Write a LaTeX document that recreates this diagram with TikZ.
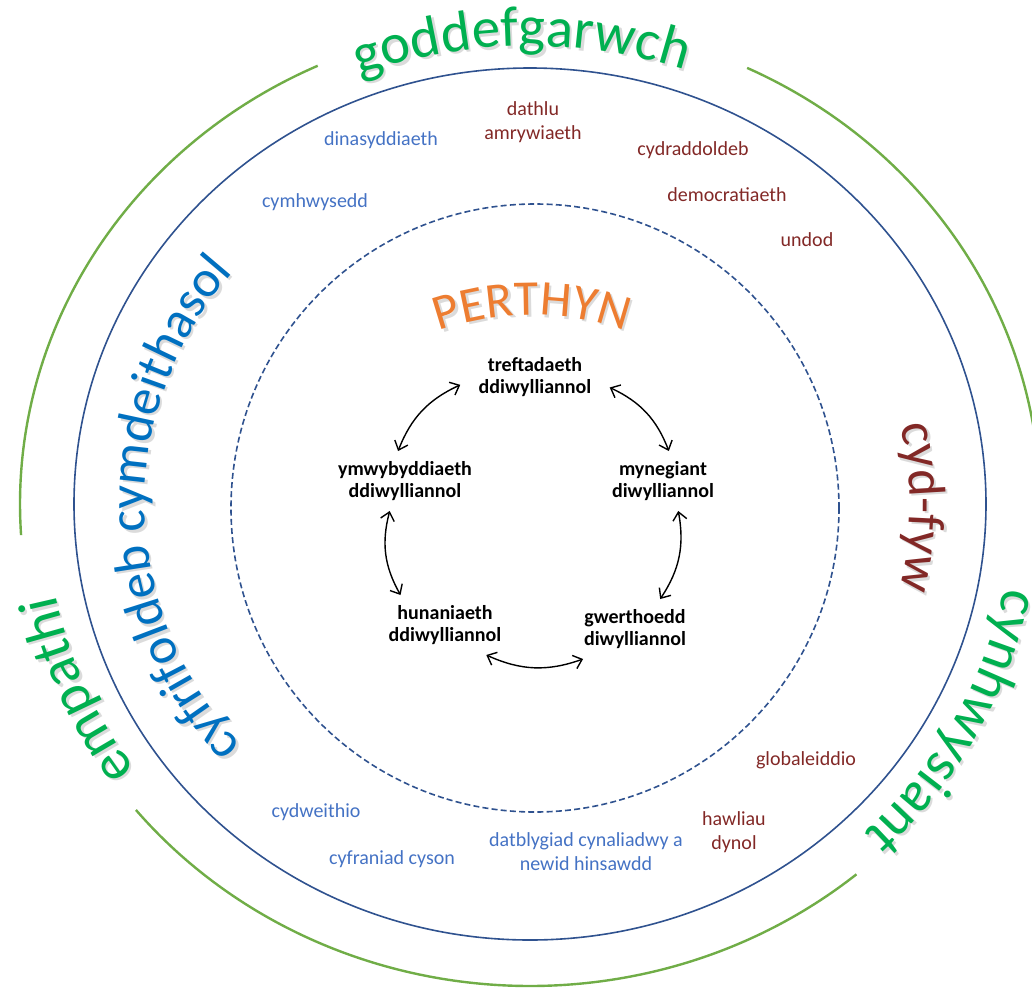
\documentclass[tikz,border=0pt]{standalone}
\usepackage{fontspec}
\setmainfont{Carlito}
\usetikzlibrary{arrows.meta,decorations.text}
\definecolor{ringblue}{RGB}{47,82,143}
\definecolor{ringgreen}{RGB}{112,173,71}
\definecolor{wordgreen}{RGB}{0,176,80}
\definecolor{wordblue}{RGB}{0,112,192}
\definecolor{itemblue}{RGB}{68,114,196}
\definecolor{itemred}{RGB}{130,40,38}
\definecolor{perthynorange}{RGB}{237,125,49}
\newcommand{\bigword}{\fontsize{28.5}{30}\selectfont}
\newcommand{\midword}{\fontsize{26}{28}\selectfont}
\newcommand{\perthynword}{\fontsize{25}{27}\selectfont}
% word along a ring, with a soft shadow: colour, font, text, path
\newcommand{\ringword}[4]{%
	\path[shift={(1.2,-1.2)}, decorate, decoration={text along path, text align=center, text color=black!14, text={|#2|#3}}] #4;
	\path[decorate, decoration={text along path, text align=center, text color=#1, text={|#2|#3}}] #4;}
\tikzset{
  value/.style={font=\fontsize{10}{12}\selectfont, align=center, inner sep=1pt},
  blueval/.style={value, text=itemblue},
  redval/.style={value, text=itemred},
  culture/.style={font=\fontsize{10}{11}\selectfont\bfseries, align=center, inner xsep=9pt, inner ysep=5pt},
  link/.style={{Straight Barb[length=4pt,width=7pt]}-{Straight Barb[length=4pt,width=7pt]}, line width=0.7pt, bend left=22},
  ring/.style={ringgreen, line width=1.2pt},
}
\begin{document}
\begin{tikzpicture}[x=1pt,y=1pt]
	\useasboundingbox (-265,-244) rectangle (251,252);
	% rings
	\draw[ringblue, line width=0.8pt] (0,0) ellipse[x radius=228, y radius=218];
	\draw[ringblue, line width=0.8pt, dash pattern=on 3pt off 1.6pt] (2.5,-2) circle[radius=152];
	\draw[ring] (114.6:255 and 241) arc[start angle=114.6, end angle=183.7, x radius=255, y radius=241];
	\draw[ring] (64.8:255 and 241) arc[start angle=64.8, end angle=-6, x radius=255, y radius=241];
	\draw[ring] (219.4:255 and 241) arc[start angle=219.4, end angle=309.8, x radius=255, y radius=241];
	% words round the rings
	\ringword{wordgreen}{\bigword}{goddefgarwch}{(131:242 and 229) arc[start angle=131, end angle=51, x radius=242, y radius=229]}
	\ringword{wordgreen}{\bigword}{empathi}{(243:242 and 229) arc[start angle=243, end angle=163, x radius=242, y radius=229]}
	\ringword{wordgreen}{\bigword}{cynhwysiant}{(12:241 and 228) arc[start angle=12, end angle=-68, x radius=241, y radius=228]}
	\ringword{wordblue}{\midword}{cyfrifoldeb cymdeithasol}{(241:192.5 and 182) arc[start angle=241, end angle=121, x radius=192.5, y radius=182]}
	\ringword{itemred}{\midword}{cyd-fyw}{(39.5:190 and 180) arc[start angle=39.5, end angle=-40.5, x radius=190, y radius=180]}
	\ringword{perthynorange}{\perthynword}{PERTHYN}{([shift={(1,-44)}]150:138.5) arc[start angle=150, end angle=30, radius=138.5]}
	% values
	\node[blueval] (dinas) at (-74.5,182) {dinasyddiaeth};
	\node[blueval] (cymhw) at (-107.5,151) {cymhwysedd};
	\node[redval] (dathlu) at (1.5,191) {dathlu\\amrywiaeth};
	\node[redval] (cydradd) at (81.5,177) {cydraddoldeb};
	\node[redval] (democ) at (98.5,154.5) {democratiaeth};
	\node[redval] (undod) at (138.5,132) {undod};
	\node[redval] (global) at (138,-128) {globaleiddio};
	\node[redval] (hawliau) at (102,-164) {hawliau\\dynol};
	\node[blueval] (datblyg) at (28,-174) {datblygiad cynaliadwy a\\newid hinsawdd};
	\node[blueval] (cydweith) at (-107,-154) {cydweithio};
	\node[blueval] (cyfran) at (-69,-177.5) {cyfraniad cyson};
	% culture
	\node[culture] (tref) at (2.5,63.5) {treftadaeth\\ddiwylliannol};
	\node[culture] (ymwy) at (-62.5,11.5) {ymwybyddiaeth\\ddiwylliannol};
	\node[culture] (myne) at (66.5,11.5) {mynegiant\\diwylliannol};
	\node[culture] (huna) at (-42.5,-60.5) {hunaniaeth\\ddiwylliannol};
	\node[culture] (gwer) at (52.5,-62.5) {gwerthoedd\\diwylliannol};
	\draw[link] (tref.-8) to (myne.79);
	\draw[link] (myne.-63) to (gwer.50);
	\draw[link] (gwer.210) to (huna.-36);
	\draw[link] (huna.146) to (ymwy.243);
	\draw[link] (ymwy.103) to (tref.186);
\end{tikzpicture}
\end{document}
